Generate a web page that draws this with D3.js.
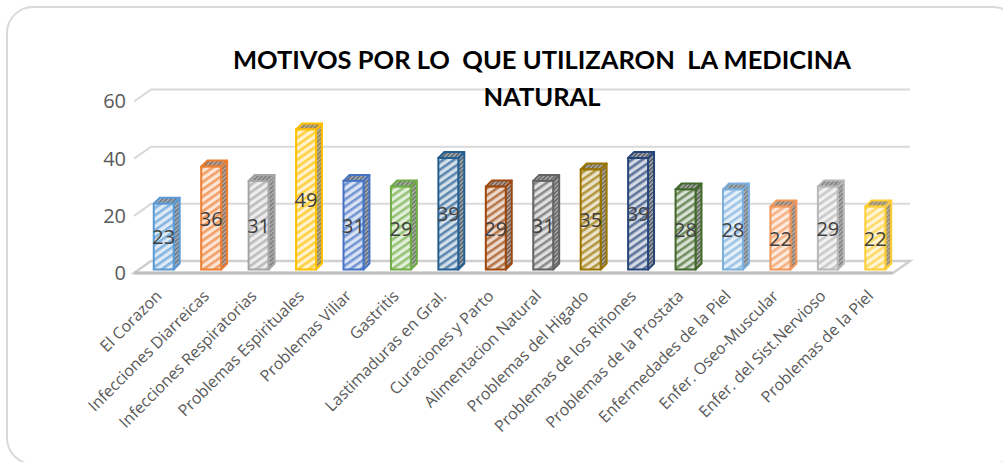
<!DOCTYPE html>
<html>
<head>
<meta charset="utf-8">
<style type="text/css">
body { margin: 0; background: #fff; overflow: hidden; }
svg { display: block; font-family: "Open Sans", sans-serif; }
.title { font-family: Lato, sans-serif; font-weight: bold; font-size: 25.5px; fill: #000; text-anchor: middle; }
.tick text { font-family: "Open Sans", sans-serif; font-size: 20px; fill: #595959; }
.cat { font-size: 16px; fill: #595959; text-anchor: end; }
.lab { font-size: 20px; fill: #404040; text-anchor: middle; dominant-baseline: central; }
</style>
</head>
<body>
<script src="https://d3js.org/d3.v7.min.js"></script>
<script>
// the chart's values
let categories = ["El Corazon", "Infecciones Diarreicas", "Infecciones Respiratorias", "Problemas Espirituales",
    "Problemas Viliar", "Gastritis", "Lastimaduras en Gral.", "Curaciones y Parto", "Alimentacion Natural",
    "Problemas del Higado", "Problemas de los Riñones", "Problemas de la Prostata", "Enfermedades de la Piel",
    "Enfer. Oseo-Muscular", "Enfer. del Sist.Nervioso", "Problemas de la Piel"];
let values = [23, 36, 31, 49, 31, 29, 39, 29, 31, 35, 39, 28, 28, 22, 29, 22];
let barColors = ["#5B9BD5", "#ED7D31", "#A5A5A5", "#FFC000", "#4472C4", "#70AD47", "#255E91", "#9E480E",
    "#636363", "#997300", "#264478", "#43682B", "#7CAFDD", "#F1975A", "#B7B7B7", "#FFCD33"];
let yTicks = [0, 20, 40, 60];
let titleLines = ["MOTIVOS POR LO  QUE UTILIZARON  LA MEDICINA", "NATURAL"];

let svg = d3.select("body").append("svg").attr("width", 1003).attr("height", 462);
let defs = svg.append("defs");

// scales: x runs along the front of the floor, y is the front wall
let x = d3.scaleBand().domain(categories).range([134, 893]).paddingInner(0.58).paddingOuter(0.29);
let y = d3.scaleLinear().domain([0, 60]).range([273, 101.5]);

// perspective offsets
let wallDx = 17, wallDy = -12;
let barShift = 6, barBase = -3.5, barDx = 6, barDy = -6;

// chart frame, runs off the right and bottom of the picture
svg.append("rect").attr("x", 7).attr("y", 7).attr("width", 1012).attr("height", 457).attr("rx", 26)
    .attr("fill", "#fff").attr("stroke", "#D9D9D9").attr("stroke-width", 2);

// hatch patterns, one per bar
barColors.forEach(function(c, i) {
    let p = defs.append("pattern").attr("id", "front" + i).attr("patternUnits", "userSpaceOnUse")
        .attr("width", 6).attr("height", 6).attr("patternTransform", "rotate(-35)");
    p.append("rect").attr("width", 6).attr("height", 6).attr("fill", d3.interpolateRgb(c, "#fff")(0.8));
    p.append("rect").attr("width", 6).attr("height", 2.6).attr("fill", d3.interpolateRgb(c, "#fff")(0.25));

    let s = defs.append("pattern").attr("id", "side" + i).attr("patternUnits", "userSpaceOnUse")
        .attr("width", 3).attr("height", 3).attr("patternTransform", "rotate(-45)");
    s.append("rect").attr("width", 3).attr("height", 3).attr("fill", "#B5B5B5");
    s.append("rect").attr("width", 3).attr("height", 1.5).attr("fill", d3.interpolateRgb(c, "#555")(0.6));
});

// gridlines on the back wall and the left wall
yTicks.filter(d => d > 0).forEach(function(t) {
    svg.append("path")
        .attr("d", d3.line()([[134, y(t)], [134 + wallDx, y(t) + wallDy], [893 + wallDx, y(t) + wallDy]]))
        .attr("fill", "none").attr("stroke", "#D9D9D9").attr("stroke-width", 2);
});

// floor
svg.append("path")
    .attr("d", d3.line()([[134, y(0)], [134 + wallDx, y(0) + wallDy], [893 + wallDx, y(0) + wallDy], [893, y(0)]]) + "Z")
    .attr("fill", "#fff").attr("stroke", "#CFCFCF").attr("stroke-width", 2.5);
svg.append("line").attr("x1", 134).attr("x2", 893).attr("y1", y(0)).attr("y2", y(0))
    .attr("stroke", "#BFBFBF").attr("stroke-width", 3);

// bars: side, top, front
let bars = svg.selectAll("g.bar").data(categories).enter().append("g").attr("class", "bar");

bars.append("path")
    .attr("d", function(d, i) {
        let r = x(d) + barShift + x.bandwidth(), b = y(0) + barBase, t = y(values[i]) + barBase;
        return d3.line()([[r, b], [r + barDx, b + barDy], [r + barDx, t + barDy], [r, t]]) + "Z";
    })
    .attr("fill", (d, i) => "url(#side" + i + ")")
    .attr("stroke", (d, i) => barColors[i]).attr("stroke-width", 2).attr("stroke-linejoin", "round");

bars.append("path")
    .attr("d", function(d, i) {
        let l = x(d) + barShift, r = l + x.bandwidth(), t = y(values[i]) + barBase;
        return d3.line()([[l, t], [l + barDx, t + barDy], [r + barDx, t + barDy], [r, t]]) + "Z";
    })
    .attr("fill", (d, i) => "url(#side" + i + ")")
    .attr("stroke", (d, i) => barColors[i]).attr("stroke-width", 2).attr("stroke-linejoin", "round");

bars.append("rect")
    .attr("x", d => x(d) + barShift)
    .attr("y", (d, i) => y(values[i]) + barBase)
    .attr("width", x.bandwidth())
    .attr("height", (d, i) => y(0) - y(values[i]))
    .attr("fill", (d, i) => "url(#front" + i + ")")
    .attr("stroke", (d, i) => barColors[i]).attr("stroke-width", 2);

// data labels
bars.append("text").attr("class", "lab")
    .attr("x", d => x(d) + barShift + x.bandwidth() / 2)
    .attr("y", (d, i) => (y(values[i]) + y(0)) / 2 + barBase)
    .text((d, i) => values[i]);

// y axis
let yAxis = svg.append("g").attr("transform", "translate(126,0)")
    .call(d3.axisLeft(y).tickValues(yTicks).tickSize(0).tickPadding(0));
yAxis.select(".domain").remove();

// category labels
svg.selectAll("text.cat").data(categories).enter().append("text").attr("class", "cat")
    .attr("transform", d => "translate(" + (x(d) + barShift + x.bandwidth() / 2 - 1) + ",297) rotate(-45)")
    .text(d => d);

// title
svg.selectAll("text.title").data(titleLines).enter().append("text").attr("class", "title")
    .attr("x", 542)
    .attr("y", (d, i) => 69 + i * 37)
    .style("white-space", "pre")
    .text(d => d);
</script>
</body>
</html>
